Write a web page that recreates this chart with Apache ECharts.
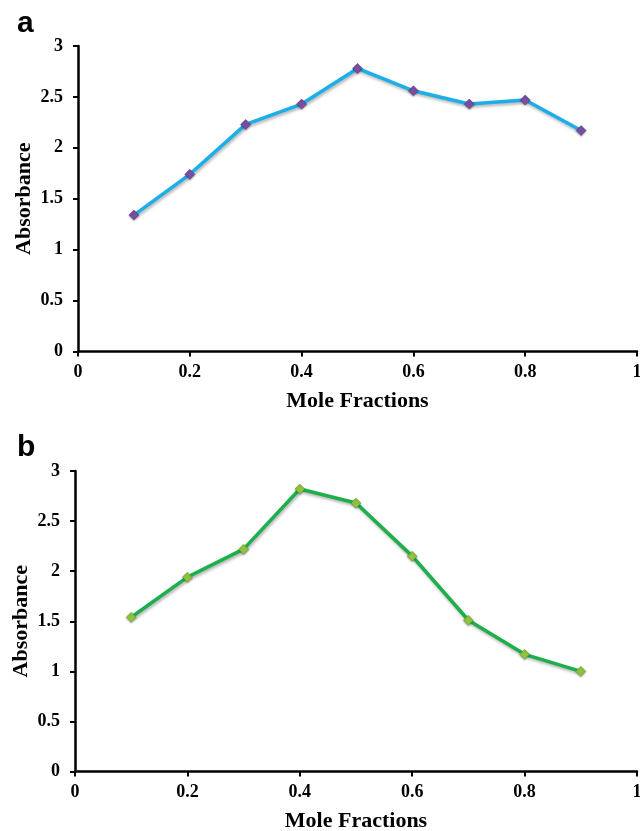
<!DOCTYPE html>
<html>
<head>
<meta charset="utf-8">
<script src="https://cdn.jsdelivr.net/npm/echarts@6/dist/echarts.min.js"></script>
<style>
html,body{margin:0;padding:0;background:#fff;}
#c{width:640px;height:831px;}
</style>
</head>
<body>
<div id="c"></div>
<script>
var moleFractions = [0.1, 0.2, 0.3, 0.4, 0.5, 0.6, 0.7, 0.8, 0.9];
var absorbanceA = [1.34, 1.74, 2.23, 2.43, 2.78, 2.56, 2.43, 2.47, 2.17];
var absorbanceB = [1.54, 1.94, 2.22, 2.82, 2.68, 2.15, 1.51, 1.17, 1.00];
var xTicks = [0, 0.2, 0.4, 0.6, 0.8, 1];
var yTicks = [0, 0.5, 1, 1.5, 2, 2.5, 3];
var panelLabels = ['a', 'b'];

function pairs(xs, ys) { return xs.map(function (x, i) { return [x, ys[i]]; }); }

var serif = '"Liberation Serif", "Times New Roman", serif';

function xAxisFor(gi) {
  return {
    type: 'value', gridIndex: gi, min: xTicks[0], max: xTicks[xTicks.length - 1], interval: 0.2,
    name: 'Mole Fractions', nameLocation: 'middle', nameGap: 39, nameMoveOverlap: false,
    nameTextStyle: { fontFamily: serif, fontWeight: 'bold', fontSize: 22, color: '#000' },
    axisLine: { show: true, onZero: false, lineStyle: { color: '#000', width: 2.5 } },
    axisTick: { show: true, length: 5, lineStyle: { color: '#000', width: 2 } },
    axisLabel: { fontFamily: serif, fontWeight: 'bold', fontSize: 18, color: '#000', margin: 12,
      formatter: function (v) { return String(+v.toFixed(1)); }, showMaxLabel: true },
    splitLine: { show: false }
  };
}
function yAxisFor(gi) {
  return {
    type: 'value', gridIndex: gi, min: yTicks[0], max: yTicks[yTicks.length - 1], interval: 0.5,
    name: 'Absorbance', nameLocation: 'middle', nameGap: 43, nameRotate: 90, nameMoveOverlap: false,
    nameTextStyle: { fontFamily: serif, fontWeight: 'bold', fontSize: 22, color: '#000' },
    axisLine: { show: true, lineStyle: { color: '#000', width: 2.5 } },
    axisTick: { show: true, length: 5, lineStyle: { color: '#000', width: 2 } },
    axisLabel: { fontFamily: serif, fontWeight: 'bold', fontSize: 18, color: '#000', margin: 15,
      formatter: function (v) { return String(+v.toFixed(1)); } },
    splitLine: { show: false }
  };
}

var chart = echarts.init(document.getElementById('c'), null, { renderer: 'canvas' });
chart.setOption({
  animation: false,
  backgroundColor: '#fff',
  title: [
    { text: panelLabels[0], left: 12, top: 4, textStyle: { fontFamily: '"Liberation Sans", Arial, sans-serif', fontWeight: 'bold', fontSize: 30, color: '#000' } },
    { text: panelLabels[1], left: 12, top: 428, textStyle: { fontFamily: '"Liberation Sans", Arial, sans-serif', fontWeight: 'bold', fontSize: 30, color: '#000' } }
  ],
  grid: [
    { left: 78, top: 46, right: 3, height: 305.5, containLabel: false, outerBoundsMode: 'none' },
    { left: 75, top: 471, right: 3, height: 300.5, containLabel: false, outerBoundsMode: 'none' }
  ],
  xAxis: [xAxisFor(0), xAxisFor(1)],
  yAxis: [yAxisFor(0), yAxisFor(1)],
  series: [
    {
      type: 'line', xAxisIndex: 0, yAxisIndex: 0, data: pairs(moleFractions, absorbanceA),
      symbol: 'diamond', symbolSize: 10,
      lineStyle: { color: '#1CAEE8', width: 3.5, shadowColor: 'rgba(0,0,0,0.3)', shadowBlur: 3, shadowOffsetX: 1, shadowOffsetY: 2 },
      itemStyle: { color: '#7A4FA3', borderColor: '#5B3585', borderWidth: 0.5, shadowColor: 'rgba(0,0,0,0.3)', shadowBlur: 2, shadowOffsetY: 1 },
      z: 3
    },
    {
      type: 'line', xAxisIndex: 1, yAxisIndex: 1, data: pairs(moleFractions, absorbanceB),
      symbol: 'diamond', symbolSize: 10,
      lineStyle: { color: '#1DAF4C', width: 3.5, shadowColor: 'rgba(0,0,0,0.3)', shadowBlur: 3, shadowOffsetX: 1, shadowOffsetY: 2 },
      itemStyle: { color: '#8DC440', borderColor: '#6A9A2A', borderWidth: 0.5, shadowColor: 'rgba(0,0,0,0.3)', shadowBlur: 2, shadowOffsetY: 1 },
      z: 3
    }
  ]
});
</script>
</body>
</html>
